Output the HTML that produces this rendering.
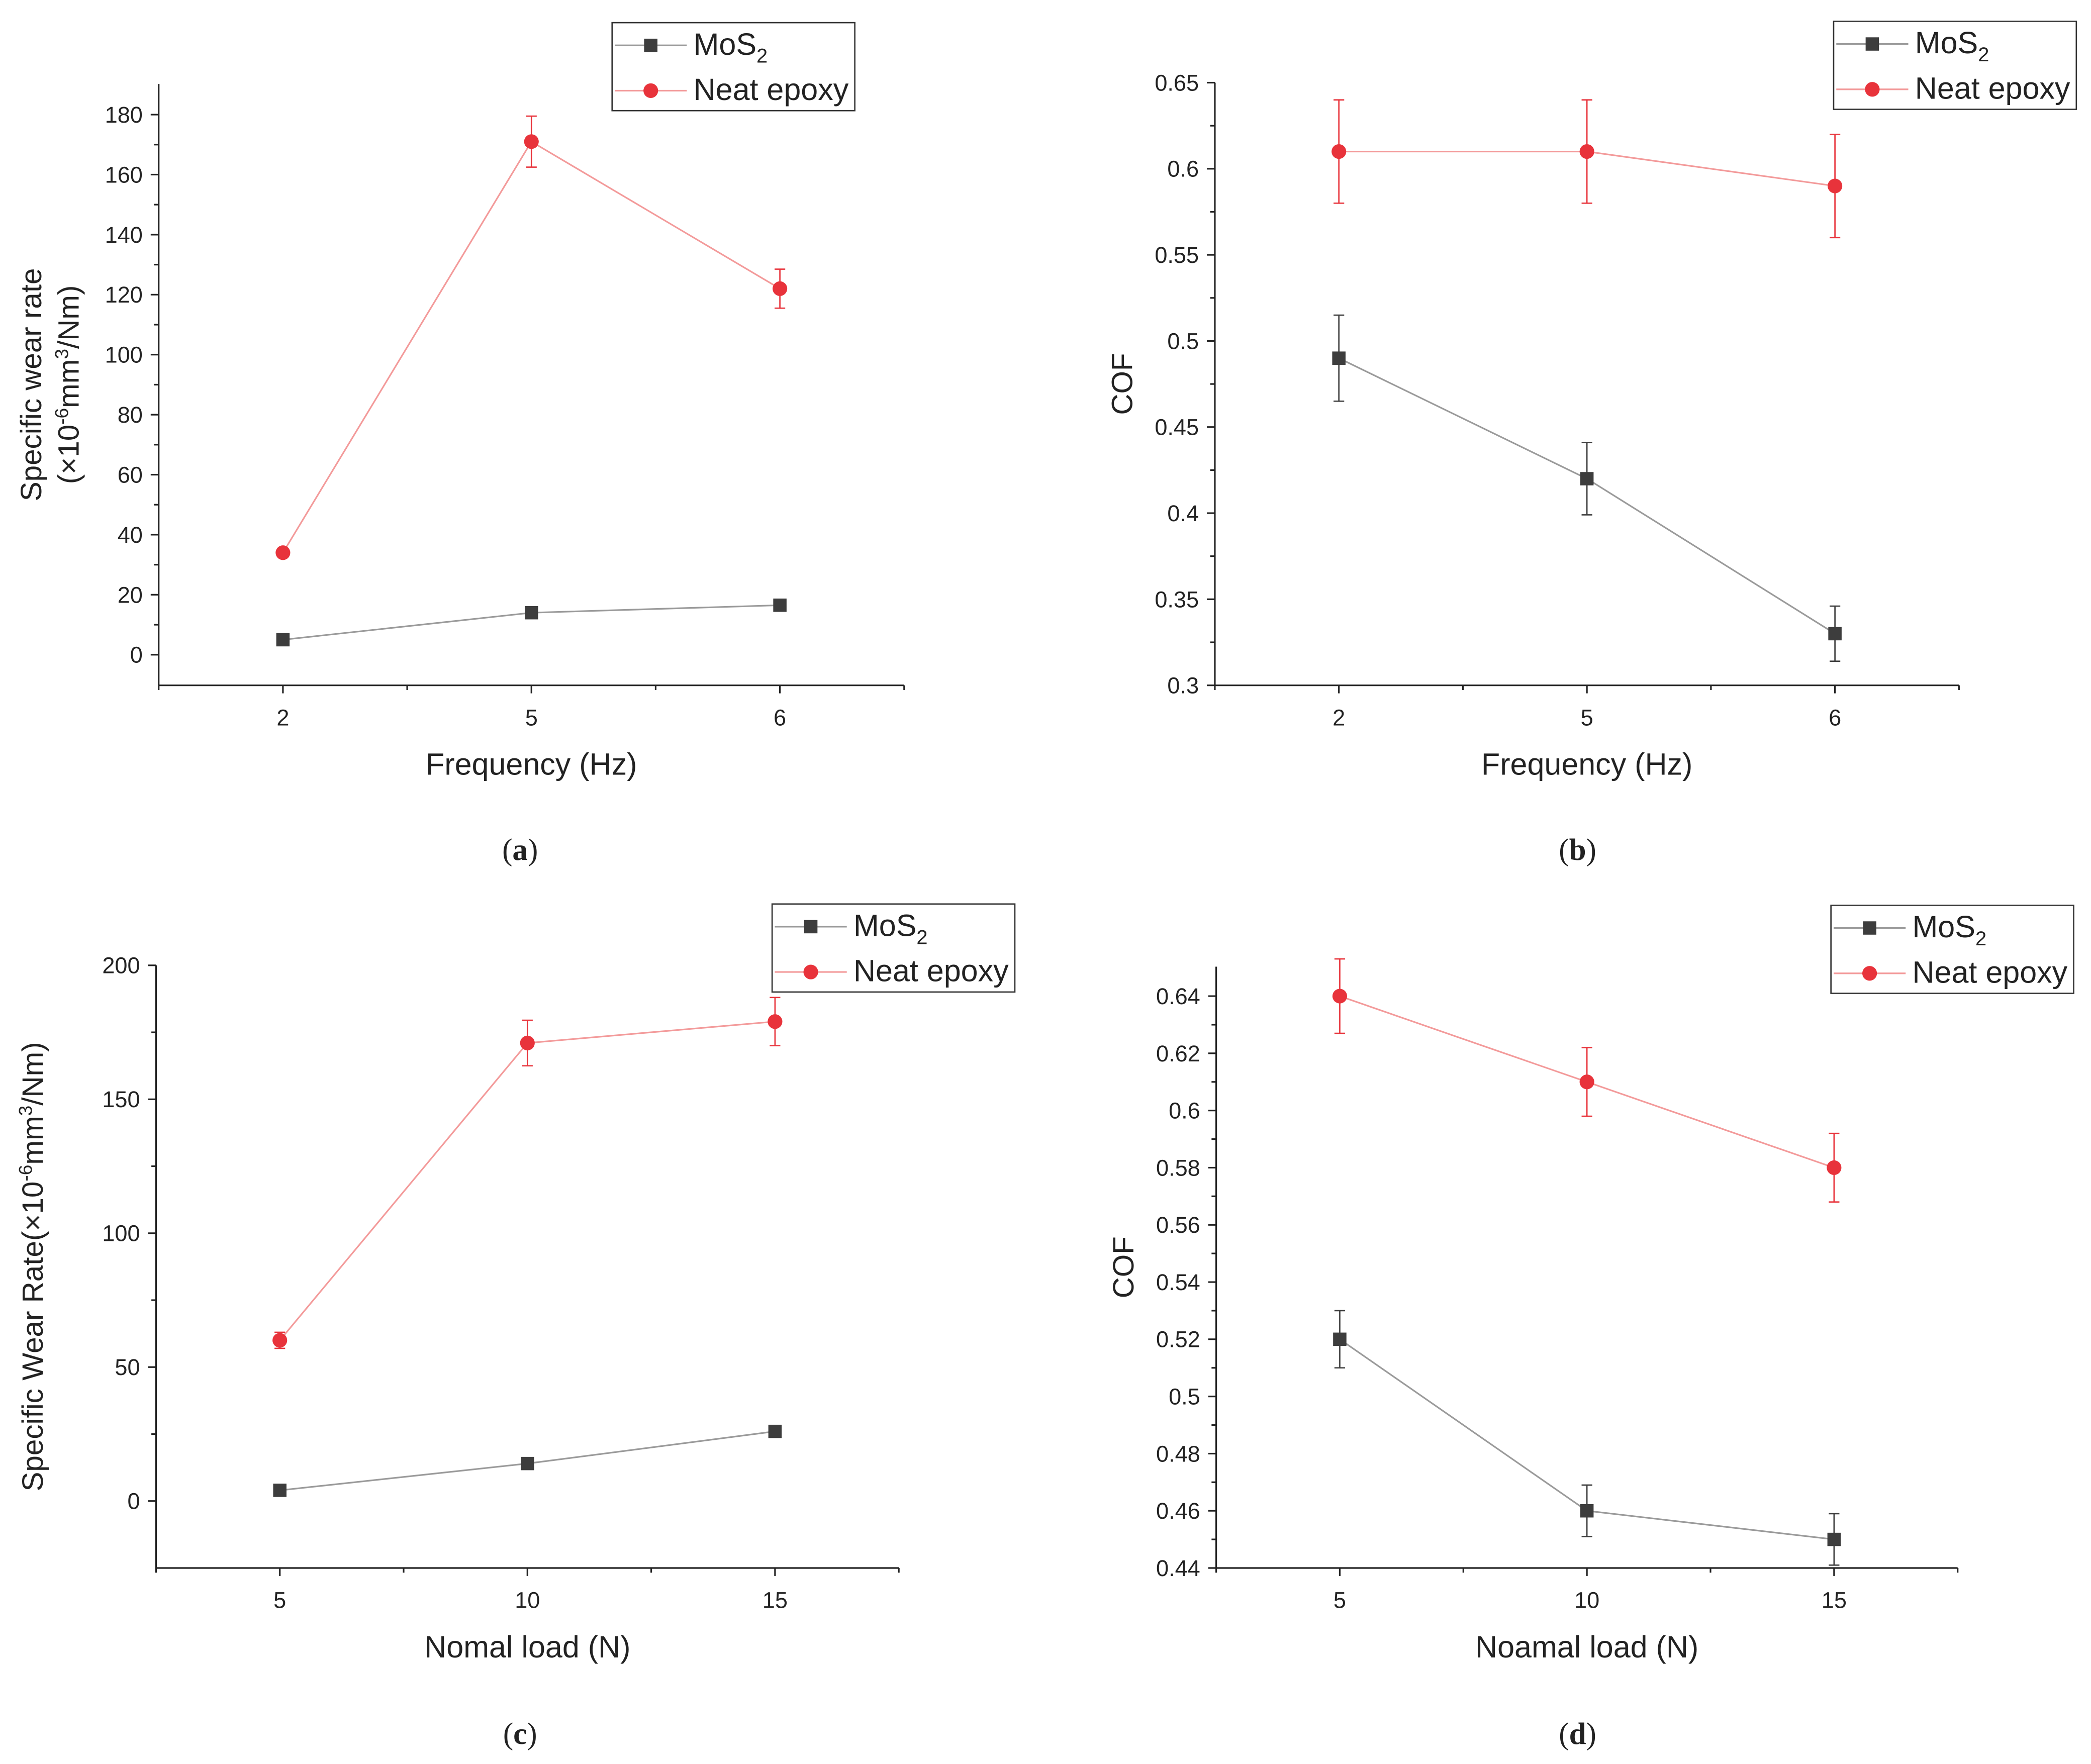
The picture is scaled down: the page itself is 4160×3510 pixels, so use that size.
<!DOCTYPE html>
<html><head><meta charset="utf-8"><style>
html,body{margin:0;padding:0;background:#fff}
svg{display:block}
text{font-family:"Liberation Sans",sans-serif;fill:#222}
.cap{font-family:"Liberation Serif",serif;font-size:23px}
</style></head><body>
<svg id="fig" xmlns="http://www.w3.org/2000/svg" width="4160" height="3510" viewBox="0 0 1568 1323"></svg>
<script>
// Panel (a)
const catsA = ["2","5","6"];
const mosA = [5, 14, 16.5];
const mosAErr = [0.8, 1, 1];
const epoA = [34, 171, 122];
const epoAErr = [1, 8.5, 6.5];
const ticksA = [0,20,40,60,80,100,120,140,160,180];
// Panel (b)
const catsB = ["2","5","6"];
const mosB = [0.49, 0.42, 0.33];
const mosBErr = [0.025, 0.021, 0.016];
const epoB = [0.61, 0.61, 0.59];
const epoBErr = [0.03, 0.03, 0.03];
const ticksB = [0.3,0.35,0.4,0.45,0.5,0.55,0.6,0.65];
const tickLabelsB = ["0.3","0.35","0.4","0.45","0.5","0.55","0.6","0.65"];
// Panel (c)
const catsC = ["5","10","15"];
const mosC = [4, 14, 26];
const mosCErr = [0.5, 0.8, 0.8];
const epoC = [60, 171, 179];
const epoCErr = [3, 8.5, 9];
const ticksC = [0,50,100,150,200];
// Panel (d)
const catsD = ["5","10","15"];
const mosD = [0.52, 0.46, 0.45];
const mosDErr = [0.01, 0.009, 0.009];
const epoD = [0.64, 0.61, 0.58];
const epoDErr = [0.013, 0.012, 0.012];
const ticksD = [0.44,0.46,0.48,0.5,0.52,0.54,0.56,0.58,0.6,0.62,0.64];
const tickLabelsD = ["0.44","0.46","0.48","0.5","0.52","0.54","0.56","0.58","0.6","0.62","0.64"];

const NS="http://www.w3.org/2000/svg";
const svg=document.getElementById('fig');
function mk(tag,attrs,parent){const e=document.createElementNS(NS,tag);for(const k in attrs)e.setAttribute(k,attrs[k]);(parent||svg).appendChild(e);return e;}

function panel(p){
  const g=mk('g',{});
  
  
  const sx=i=>p.x0+(i+0.5)/p.cats.length*(p.x1-p.x0);
  const sy=v=>p.y1-(v-p.ymin)/(p.ymax-p.ymin)*(p.y1-p.y0);
  const ax=mk('g',{stroke:'#222','stroke-width':1.2},g);
  
  
  mk('line',{x1:p.x0,y1:p.y0,x2:p.x0,y2:p.y1},ax);
  mk('line',{x1:p.x0,y1:p.y1,x2:p.x1,y2:p.y1},ax);
  p.ticks.forEach((t,i)=>{
    const y=sy(t);
    mk('line',{x1:p.x0-6,y1:y,x2:p.x0,y2:y},ax);
    const tx=mk('text',{x:p.x0-12,y:y+6,'text-anchor':'end','font-size':17},g);
    tx.textContent=p.labels?p.labels[i]:String(t);
    
    
    if(i<p.ticks.length-1){const ym=sy((t+p.ticks[i+1])/2);mk('line',{x1:p.x0-3.5,y1:ym,x2:p.x0,y2:ym},ax);}
  });
  const n=p.cats.length;
  for(let k=0;k<=n;k++){const x=p.x0+k/n*(p.x1-p.x0);mk('line',{x1:x,y1:p.y1,x2:x,y2:p.y1+3.5},ax);}
  p.cats.forEach((c,i)=>{
    const x=sx(i);
    mk('line',{x1:x,y1:p.y1,x2:x,y2:p.y1+6},ax);
    const tx=mk('text',{x:x,y:p.y1+30,'text-anchor':'middle','font-size':17},g);
    tx.textContent=c;
    
    
  });
  const xt=mk('text',{x:(p.x0+p.x1)/2,y:p.y1+67,'text-anchor':'middle','font-size':23},g);
  xt.textContent=p.xtitle;
  
  
  p.ytitle.forEach((t,j)=>{
    const cx=p.ytx+j*28, cy=(p.y0+p.y1)/2;
    const yt=mk('text',{x:cx,y:cy,'text-anchor':'middle','font-size':22,transform:`rotate(-90 ${cx} ${cy})`},g);
    yt.innerHTML=t;
    
    
  });
  const series=[{v:p.mos,e:p.mosE,line:'#9a9a9a',mark:'#3d3d3d',sq:true,name:'series-mos2'},
                {v:p.epo,e:p.epoE,line:'#f39a9a',mark:'#e8333b',sq:false,name:'series-neat-epoxy'}];
  series.forEach(s=>{
    const sg=mk('g',{},g);
    
    
    mk('polyline',{points:s.v.map((v,i)=>sx(i)+','+sy(v)).join(' '),fill:'none',stroke:s.line,'stroke-width':1.2},sg);
    s.v.forEach((v,i)=>{
      const x=sx(i),yt=sy(v+s.e[i]),yb=sy(v-s.e[i]);
      const eb=mk('path',{d:`M${x},${yt}V${yb}M${x-4},${yt}H${x+4}M${x-4},${yb}H${x+4}`,stroke:s.mark,'stroke-width':1,fill:'none'},sg);
      
      
      let m;
      if(s.sq)m=mk('rect',{x:x-5,y:sy(v)-5,width:10,height:10,fill:s.mark},sg);
      else m=mk('circle',{cx:x,cy:sy(v),r:5.5,fill:s.mark},sg);
      
      
    });
  });
  const L=p.leg;
  const lg=mk('g',{},g);
  
  
  mk('rect',{x:L[0],y:L[1],width:182,height:66,fill:'#fff',stroke:'#333','stroke-width':1},lg);
  [[series[0],'MoS<tspan font-size="15" dy="6">2</tspan>'],[series[1],'Neat epoxy']].forEach((it,j)=>{
    const y=L[1]+17+j*34, x=L[0]+2;
    const e=mk('g',{},lg);
    
    
    mk('line',{x1:x,y1:y,x2:x+54,y2:y,stroke:it[0].line,'stroke-width':1.2},e);
    if(it[0].sq)mk('rect',{x:x+22,y:y-5,width:10,height:10,fill:it[0].mark},e);
    else mk('circle',{cx:x+27,cy:y,r:5.5,fill:it[0].mark},e);
    const t=mk('text',{x:x+59,y:y+7,'font-size':23},e);
    t.innerHTML=it[1];
  });
  const cp=mk('text',{x:p.cap[0],y:p.cap[1],'text-anchor':'middle',class:'cap'},g);
  cp.innerHTML='(<tspan font-weight="bold">'+p.capL+'</tspan>)';
  
  
}

panel({name:'panel-a',x0:119,x1:678,y0:63,y1:514,ymin:-10.2,ymax:190.2,ticks:ticksA,cats:catsA,mos:mosA,mosE:mosAErr,epo:epoA,epoE:epoAErr,
  xtitle:'Frequency (Hz)',ytitle:['Specific wear rate','(×10<tspan font-size="14" dy="-8">-6</tspan><tspan dy="8">mm</tspan><tspan font-size="14" dy="-8">3</tspan><tspan dy="8">/Nm)</tspan>'],ytx:31,leg:[459,17],cap:[390,645],capL:'a'});
panel({name:'panel-b',x0:911,x1:1469,y0:62,y1:514,ymin:0.3,ymax:0.65,ticks:ticksB,labels:tickLabelsB,cats:catsB,mos:mosB,mosE:mosBErr,epo:epoB,epoE:epoBErr,
  xtitle:'Frequency (Hz)',ytitle:['COF'],ytx:849,leg:[1375,16],cap:[1183,645],capL:'b'});
panel({name:'panel-c',x0:117,x1:674,y0:724,y1:1176,ymin:-25,ymax:200,ticks:ticksC,cats:catsC,mos:mosC,mosE:mosCErr,epo:epoC,epoE:epoCErr,
  xtitle:'Nomal load (N)',ytitle:['Specific Wear Rate(×10<tspan font-size="14" dy="-8">-6</tspan><tspan dy="8">mm</tspan><tspan font-size="14" dy="-8">3</tspan><tspan dy="8">/Nm)</tspan>'],ytx:32,leg:[579,678],cap:[390,1308],capL:'c'});
panel({name:'panel-d',x0:912,x1:1468,y0:725,y1:1176,ymin:0.44,ymax:0.6503,ticks:ticksD,labels:tickLabelsD,cats:catsD,mos:mosD,mosE:mosDErr,epo:epoD,epoE:epoDErr,
  xtitle:'Noamal load (N)',ytitle:['COF'],ytx:850,leg:[1373,679],cap:[1183,1308],capL:'d'});
</script>
</body></html>
